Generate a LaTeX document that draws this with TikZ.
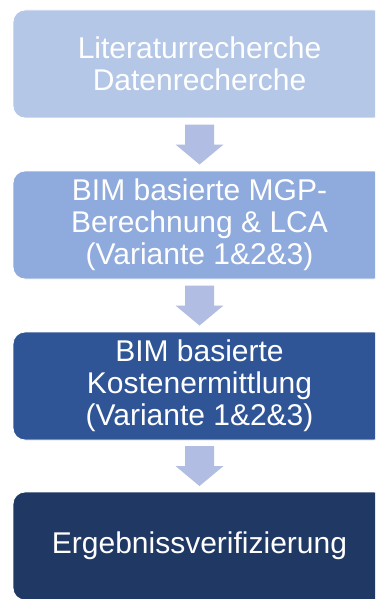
\documentclass[tikz,border=0pt]{standalone}
\usepackage{fontspec}
\setmainfont{Liberation Sans}
\usetikzlibrary{calc}
\definecolor{stepA}{RGB}{180,199,231}
\definecolor{stepB}{RGB}{143,170,220}
\definecolor{stepC}{RGB}{47,85,151}
\definecolor{stepD}{RGB}{32,56,100}
\definecolor{flowarrow}{RGB}{177,189,226}
\tikzset{
  stepbox/.style={rounded corners=12pt, draw=white, line width=0.8pt,
    minimum width=373pt, minimum height=108pt, align=center,
    text=white, font=\fontsize{30}{32}\selectfont, inner sep=0pt},
  flowarr/.style={fill=flowarrow, draw=none}
}
\begin{document}
\begin{tikzpicture}[x=1pt,y=-1pt]
  \useasboundingbox (0,0) rectangle (375,599);
  \clip (0,0) rectangle (375,599);
  \fill[white] (0,0) rectangle (375,599);

  \node[stepbox, fill=stepA] (b1) at (199.5,64)  {Literaturrecherche\\Datenrecherche};
  \node[stepbox, fill=stepB] (b2) at (199.5,225) {BIM basierte MGP-\\Berechnung \& LCA\\(Variante 1\&2\&3)};
  \node[stepbox, fill=stepC] (b3) at (199.5,386) {BIM basierte\\Kostenermittlung\\(Variante 1\&2\&3)};
  \node[stepbox, fill=stepD] (b4) at (199.5,546) {Ergebnissverifizierung};

  % block arrows between consecutive steps
  \foreach \a/\b in {b1/b2, b2/b3, b3/b4}{
    \coordinate (m) at ($(\a.south)!0.5!(\b.north)$);
    \fill[flowarr] ($(m)+(-14.5,-20)$) -- ($(m)+(14.5,-20)$) -- ($(m)+(14.5,0)$)
      -- ($(m)+(24,0)$) -- ($(m)+(0,20)$) -- ($(m)+(-24,0)$)
      -- ($(m)+(-14.5,0)$) -- cycle;
  }
\end{tikzpicture}
\end{document}
